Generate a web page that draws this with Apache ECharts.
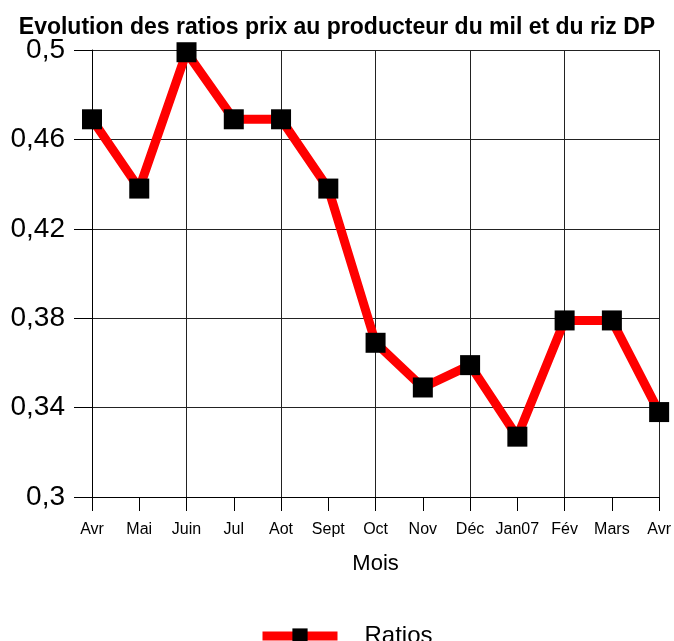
<!DOCTYPE html>
<html>
<head>
<meta charset="utf-8">
<script src="https://cdn.jsdelivr.net/npm/echarts@6/dist/echarts.min.js"></script>
<style>
  html, body { margin: 0; padding: 0; background: #fff; }
  #main { width: 674px; height: 641px; }
</style>
</head>
<body>
<div id="main"></div>
<script>
var months = ['Avr', 'Mai', 'Juin', 'Jul', 'Aot', 'Sept', 'Oct', 'Nov', 'Déc', 'Jan07', 'Fév', 'Mars', 'Avr'];
var ratios = [0.469, 0.438, 0.499, 0.469, 0.469, 0.438, 0.369, 0.349, 0.359, 0.327, 0.379, 0.379, 0.338];
var yTicks = { min: 0.3, max: 0.5, step: 0.04 };

var chart = echarts.init(document.getElementById('main'));

var option = {
  animation: false,
  title: {
    text: 'Evolution des ratios prix au producteur du mil et du riz DP',
    left: 'center',
    top: 11,
    textStyle: {
      fontFamily: 'Liberation Sans Narrow, Liberation Sans',
      fontWeight: 'bold',
      fontSize: 23,
      color: '#000'
    }
  },
  legend: {
    data: ['Ratios'],
    left: 253,
    top: 619,
    itemWidth: 75,
    itemHeight: 19,
    lineStyle: { width: 9 },
    textStyle: {
      fontFamily: 'Liberation Sans',
      fontSize: 24,
      color: '#000',
      padding: [0, 0, 0, 22]
    }
  },
  grid: {
    left: 92,
    right: 14,
    top: 50,
    bottom: 144
  },
  xAxis: {
    type: 'category',
    data: months,
    boundaryGap: false,
    name: 'Mois',
    nameLocation: 'middle',
    nameGap: 56,
    nameTextStyle: { fontFamily: 'Liberation Sans', fontSize: 22, color: '#000' },
    axisLine: { lineStyle: { color: '#000', width: 1 } },
    axisTick: { show: true, interval: 0, length: 14, lineStyle: { color: '#000' } },
    axisLabel: {
      interval: 0,
      margin: 25,
      fontFamily: 'Liberation Sans',
      fontSize: 16,
      color: '#000'
    },
    splitLine: {
      show: true,
      interval: function (index) { return index % 2 === 0; },
      lineStyle: { color: '#222', width: 1 }
    }
  },
  yAxis: {
    type: 'value',
    min: yTicks.min,
    max: yTicks.max,
    interval: yTicks.step,
    axisLine: { show: true, lineStyle: { color: '#000' } },
    axisTick: { show: true, length: 18, lineStyle: { color: '#000' } },
    axisLabel: {
      margin: 27,
      fontFamily: 'Liberation Sans',
      fontSize: 28,
      color: '#000',
      formatter: function (v) { return String(+v.toFixed(2)).replace('.', ','); }
    },
    splitLine: { show: true, lineStyle: { color: '#222', width: 1 } }
  },
  series: [
    {
      name: 'Ratios',
      type: 'line',
      data: ratios,
      symbol: 'rect',
      symbolSize: 20,
      showAllSymbol: true,
      lineStyle: { color: '#ff0000', width: 9 },
      itemStyle: { color: '#000', borderWidth: 0 },
      color: '#ff0000'
    }
  ]
};

chart.setOption(option);
</script>
</body>
</html>
